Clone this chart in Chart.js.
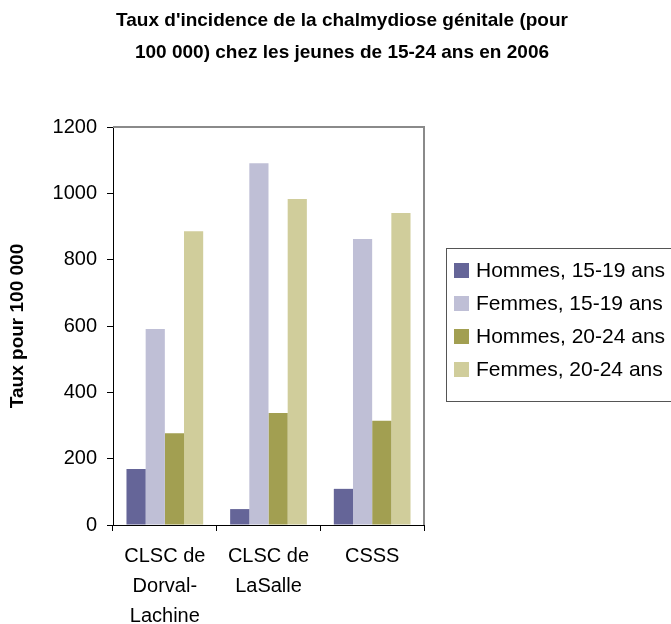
<!DOCTYPE html>
<html>
<head>
<meta charset="utf-8">
<script src="https://cdn.jsdelivr.net/npm/chart.js@4"></script>
<style>
    html, body { margin: 0; padding: 0; background: #fff; }
    .c-chart-wrap { width: 671px; height: 624px; }
</style>
</head>
<body>
<div class="c-chart-wrap"><canvas class="js-graph-canvas"></canvas></div>
<script>
const categories = [['CLSC de', 'Dorval-', 'Lachine'], ['CLSC de', 'LaSalle'], 'CSSS'];
const seriesLabels = ['Hommes, 15-19 ans', 'Femmes, 15-19 ans', 'Hommes, 20-24 ans', 'Femmes, 20-24 ans'];
const hommes1519 = [169, 48, 109];
const femmes1519 = [591, 1091, 862];
const hommes2024 = [277, 338, 314];
const femmes2024 = [886, 983, 941];
const yTicks = [0, 200, 400, 600, 800, 1000, 1200];
const titleLines = ["Taux d'incidence de la chalmydiose génitale (pour", '100 000) chez les jeunes de 15-24 ans en 2006'];

const colors = ['#656598', '#bfbfd6', '#a29f51', '#d0cd9b'];
const FONT = "'Liberation Sans', Arial, sans-serif";

// chart title, centred on the whole canvas rather than the plot
const pageTitle = {
    id: 'pageTitle',
    afterDraw(chart) {
        const {ctx} = chart;
        ctx.save();
        ctx.font = 'bold 19px ' + FONT;
        ctx.fillStyle = '#000';
        ctx.textAlign = 'center';
        ctx.textBaseline = 'middle';
        titleLines.forEach((line, i) => ctx.fillText(line, 342, 21 + i * 32));
        ctx.restore();
    }
};

// gray frame on the top and right of the plot area
const plotFrame = {
    id: 'plotFrame',
    beforeDatasetsDraw(chart) {
        const {ctx, chartArea: a} = chart;
        ctx.save();
        ctx.strokeStyle = '#8a8a8a';
        ctx.lineWidth = 2;
        ctx.beginPath();
        ctx.moveTo(a.left, a.top);
        ctx.lineTo(a.right, a.top);
        ctx.lineTo(a.right, a.bottom);
        ctx.stroke();
        ctx.restore();
    }
};

// legend drawn in a bordered box to the right of the plot
const boxLegend = {
    id: 'boxLegend',
    afterDraw(chart) {
        const {ctx} = chart;
        const x = 446, y = 248, w = 260, h = 153;
        ctx.save();
        ctx.strokeStyle = '#555';
        ctx.lineWidth = 1;
        ctx.strokeRect(x + 0.5, y + 0.5, w, h);
        ctx.font = '21px ' + FONT;
        ctx.textBaseline = 'middle';
        chart.data.datasets.forEach((ds, i) => {
            const cy = 270 + i * 33;
            ctx.fillStyle = ds.backgroundColor;
            ctx.fillRect(454, cy - 7, 15, 15);
            ctx.fillStyle = '#000';
            ctx.fillText(ds.label, 476, cy + 1);
        });
        ctx.restore();
    }
};

const datasets = [hommes1519, femmes1519, hommes2024, femmes2024].map((data, i) => ({
    label: seriesLabels[i],
    data,
    backgroundColor: colors[i],
    borderWidth: 0,
    categoryPercentage: 0.74,
    barPercentage: 1
}));

const ctx = document.querySelector('.js-graph-canvas');
new Chart(ctx, {
    type: 'bar',
    data: { labels: categories, datasets },
    options: {
        responsive: true,
        maintainAspectRatio: false,
        animation: false,
        layout: { padding: { left: 0, right: 247, top: 127, bottom: 0 } },
        plugins: {
            legend: { display: false },
            tooltip: { enabled: false },
            title: { display: false }
        },
        scales: {
            x: {
                grid: { display: true, offset: true, drawOnChartArea: false, drawTicks: true, tickLength: 6, color: '#000' },
                border: { display: true, color: '#000', width: 1 },
                ticks: { color: '#000', padding: 10, maxRotation: 0, font: { family: FONT, size: 20, lineHeight: '30px' } },
                afterFit(scale) { scale.height = 99; }
            },
            y: {
                min: 0,
                max: 1200,
                afterBuildTicks(scale) { scale.ticks = yTicks.map(v => ({ value: v })); },
                grid: { display: true, drawOnChartArea: false, drawTicks: true, tickLength: 6, color: '#000' },
                border: { display: true, color: '#000', width: 1 },
                ticks: { color: '#000', padding: 10, font: { family: FONT, size: 20 }, callback: v => String(v) },
                title: {
                    display: true,
                    text: 'Taux pour 100 000',
                    color: '#000',
                    font: { family: FONT, size: 19, weight: 'bold', lineHeight: '24px' },
                    padding: { top: 6, bottom: 0 }
                },
                afterFit(scale) { scale.width = 113; }
            }
        }
    },
    plugins: [plotFrame, boxLegend, pageTitle]
});
</script>
</body>
</html>
